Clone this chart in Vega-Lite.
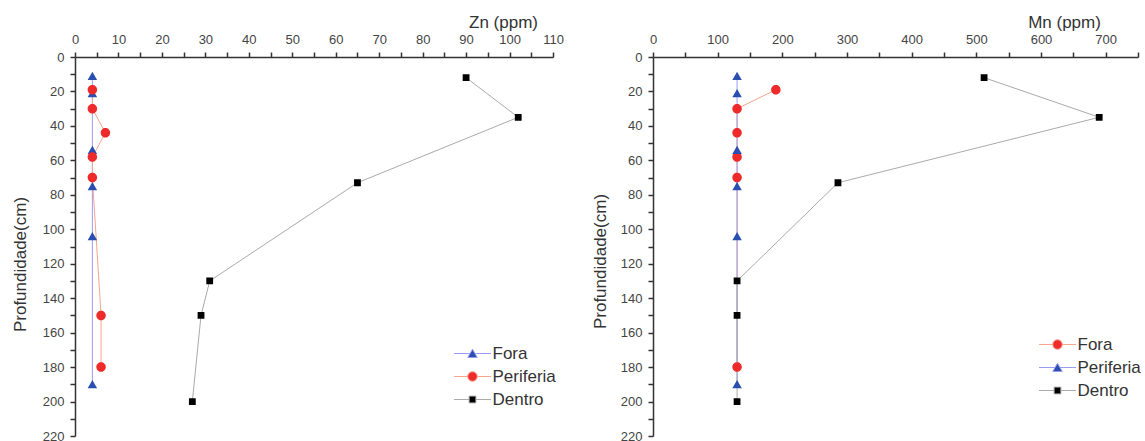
{
  "$schema": "https://vega.github.io/schema/vega-lite/v6.json",
  "padding": {"left": 11, "top": 13, "right": 0, "bottom": 0},
  "bounds": "flush",
  "spacing": 100,
  "config": {
    "view": {"stroke": null},
    "font": "Liberation Sans",
    "axis": {
      "grid": false,
      "domainColor": "#333333",
      "domainWidth": 1.5,
      "tickColor": "#333333",
      "tickWidth": 1.5,
      "labelColor": "#444444",
      "labelFontSize": 13,
      "labelFont": "Liberation Sans",
      "titleFont": "Liberation Sans",
      "titleFontSize": 17,
      "titleFontWeight": "normal",
      "titleColor": "#333333",
      "labelFlush": false,
      "labelOverlap": false
    },
    "legend": {
      "labelFont": "Liberation Sans",
      "labelFontSize": 17,
      "labelColor": "#333333",
      "symbolStrokeWidth": 1,
      "symbolSize": 100,
      "padding": 0
    }
  },
  "datasets": {
    "zn": [
      {"series": "Fora", "ppm": 4, "depth": 11},
      {"series": "Fora", "ppm": 4, "depth": 21},
      {"series": "Fora", "ppm": 4, "depth": 54},
      {"series": "Fora", "ppm": 4, "depth": 75},
      {"series": "Fora", "ppm": 4, "depth": 104},
      {"series": "Fora", "ppm": 4, "depth": 190},
      {"series": "Periferia", "ppm": 4, "depth": 19},
      {"series": "Periferia", "ppm": 4, "depth": 30},
      {"series": "Periferia", "ppm": 7, "depth": 44},
      {"series": "Periferia", "ppm": 4, "depth": 58},
      {"series": "Periferia", "ppm": 4, "depth": 70},
      {"series": "Periferia", "ppm": 6, "depth": 150},
      {"series": "Periferia", "ppm": 6, "depth": 180},
      {"series": "Dentro", "ppm": 90, "depth": 12},
      {"series": "Dentro", "ppm": 102, "depth": 35},
      {"series": "Dentro", "ppm": 65, "depth": 73},
      {"series": "Dentro", "ppm": 31, "depth": 130},
      {"series": "Dentro", "ppm": 29, "depth": 150},
      {"series": "Dentro", "ppm": 27, "depth": 200}
    ],
    "mn": [
      {"series": "Fora", "ppm": 190, "depth": 19},
      {"series": "Fora", "ppm": 130, "depth": 30},
      {"series": "Fora", "ppm": 130, "depth": 44},
      {"series": "Fora", "ppm": 130, "depth": 58},
      {"series": "Fora", "ppm": 130, "depth": 70},
      {"series": "Fora", "ppm": 130, "depth": 180},
      {"series": "Periferia", "ppm": 130, "depth": 11},
      {"series": "Periferia", "ppm": 130, "depth": 21},
      {"series": "Periferia", "ppm": 130, "depth": 54},
      {"series": "Periferia", "ppm": 130, "depth": 75},
      {"series": "Periferia", "ppm": 130, "depth": 104},
      {"series": "Periferia", "ppm": 130, "depth": 190},
      {"series": "Dentro", "ppm": 512, "depth": 12},
      {"series": "Dentro", "ppm": 690, "depth": 35},
      {"series": "Dentro", "ppm": 286, "depth": 73},
      {"series": "Dentro", "ppm": 130, "depth": 130},
      {"series": "Dentro", "ppm": 130, "depth": 150},
      {"series": "Dentro", "ppm": 130, "depth": 200}
    ]
  },
  "resolve": {"scale": {"x": "independent", "y": "independent", "fill": "independent", "stroke": "independent", "shape": "independent"}},
  "hconcat": [
    {
      "width": 478,
      "height": 379,
      "data": {"name": "zn"},
      "encoding": {
        "x": {"field": "ppm", "type": "quantitative", "scale": {"domain": [0, 110], "nice": false, "zero": false},
          "axis": {"orient": "top", "values": [0, 5, 10, 15, 20, 25, 30, 35, 40, 45, 50, 55, 60, 65, 70, 75, 80, 85, 90, 95, 100, 105, 110],
            "labelExpr": "datum.value % 10 === 0 ? datum.label : ''", "tickSize": 5, "labelPadding": 6,
            "title": "Zn (ppm)", "titleX": 428, "titleY": -30, "titleAlign": "center", "titleBaseline": "alphabetic", "titleAngle": 0}},
        "y": {"field": "depth", "type": "quantitative", "scale": {"domain": [0, 220], "reverse": true, "nice": false, "zero": false},
          "axis": {"orient": "left", "values": [0, 10, 20, 30, 40, 50, 60, 70, 80, 90, 100, 110, 120, 130, 140, 150, 160, 170, 180, 190, 200, 210, 220],
            "labelExpr": "datum.value % 20 === 0 ? datum.label : ''", "tickSize": 5, "labelPadding": 6,
            "title": "Profundidade(cm)", "titleX": -46, "titleY": 207, "titleAngle": -90, "titleAlign": "center", "titleBaseline": "bottom"}}
      },
      "layer": [
        {
          "mark": {"type": "line", "strokeWidth": 1},
          "encoding": {
            "stroke": {"field": "series", "type": "nominal",
              "scale": {"domain": ["Fora", "Periferia", "Dentro"], "range": ["#9a9cf2", "#f6a58e", "#aaaaaa"]},
              "legend": {"orient": "none", "legendX": 389, "legendY": 288, "title": null, "labelOffset": 11.5, "rowPadding": 5}},
            "order": {"field": "depth", "type": "quantitative"}
          }
        },
        {
          "mark": {"type": "point", "filled": true, "opacity": 1, "size": 100},
          "encoding": {
            "fill": {"field": "series", "type": "nominal",
              "scale": {"domain": ["Fora", "Periferia", "Dentro"], "range": ["#2a4fb0", "#ee2a2a", "#000000"]},
              "legend": {"orient": "none", "legendX": 389, "legendY": 288, "title": null, "labelOffset": 11.5, "rowPadding": 5}},
            "shape": {"field": "series", "type": "nominal",
              "scale": {"domain": ["Fora", "Periferia", "Dentro"], "range": [
                "M-3.7,0L-0.5,0M0.5,0L3.7,0M0,-0.85L0.95,0.8L-0.95,0.8Z",
                "M-3.7,0L-0.95,0M0.95,0L3.7,0M0.95,0C0.95,0.525,0.525,0.95,0,0.95C-0.525,0.95,-0.95,0.525,-0.95,0C-0.95,-0.525,-0.525,-0.95,0,-0.95C0.525,-0.95,0.95,-0.525,0.95,0Z",
                "M-3.7,0L-0.68,0M0.68,0L3.7,0M-0.68,-0.68L0.68,-0.68L0.68,0.68L-0.68,0.68Z"]},
              "legend": {"orient": "none", "legendX": 389, "legendY": 288, "title": null, "labelOffset": 11.5, "rowPadding": 5}}
          }
        }
      ]
    },
    {
      "width": 485,
      "height": 379,
      "data": {"name": "mn"},
      "encoding": {
        "x": {"field": "ppm", "type": "quantitative", "scale": {"domain": [0, 750], "nice": false, "zero": false},
          "axis": {"orient": "top", "values": [0, 50, 100, 150, 200, 250, 300, 350, 400, 450, 500, 550, 600, 650, 700, 750],
            "labelExpr": "datum.value % 100 === 0 ? datum.label : ''", "tickSize": 5, "labelPadding": 6,
            "title": "Mn (ppm)", "titleX": 411, "titleY": -30, "titleAlign": "center", "titleBaseline": "alphabetic", "titleAngle": 0}},
        "y": {"field": "depth", "type": "quantitative", "scale": {"domain": [0, 220], "reverse": true, "nice": false, "zero": false},
          "axis": {"orient": "left", "values": [0, 10, 20, 30, 40, 50, 60, 70, 80, 90, 100, 110, 120, 130, 140, 150, 160, 170, 180, 190, 200, 210, 220],
            "labelExpr": "datum.value % 20 === 0 ? datum.label : ''", "tickSize": 5, "labelPadding": 6,
            "title": "Profundidade(cm)", "titleX": -44, "titleY": 204, "titleAngle": -90, "titleAlign": "center", "titleBaseline": "bottom"}}
      },
      "layer": [
        {
          "mark": {"type": "line", "strokeWidth": 1},
          "encoding": {
            "stroke": {"field": "series", "type": "nominal",
              "scale": {"domain": ["Fora", "Periferia", "Dentro"], "range": ["#f6a58e", "#9a9cf2", "#aaaaaa"]},
              "legend": {"orient": "none", "legendX": 396, "legendY": 279, "title": null, "labelOffset": 11.5, "rowPadding": 5}},
            "order": {"field": "depth", "type": "quantitative"}
          }
        },
        {
          "mark": {"type": "point", "filled": true, "opacity": 1, "size": 100},
          "encoding": {
            "fill": {"field": "series", "type": "nominal",
              "scale": {"domain": ["Fora", "Periferia", "Dentro"], "range": ["#ee2a2a", "#2a4fb0", "#000000"]},
              "legend": {"orient": "none", "legendX": 396, "legendY": 279, "title": null, "labelOffset": 11.5, "rowPadding": 5}},
            "shape": {"field": "series", "type": "nominal",
              "scale": {"domain": ["Fora", "Periferia", "Dentro"], "range": [
                "M-3.7,0L-0.95,0M0.95,0L3.7,0M0.95,0C0.95,0.525,0.525,0.95,0,0.95C-0.525,0.95,-0.95,0.525,-0.95,0C-0.95,-0.525,-0.525,-0.95,0,-0.95C0.525,-0.95,0.95,-0.525,0.95,0Z",
                "M-3.7,0L-0.5,0M0.5,0L3.7,0M0,-0.85L0.95,0.8L-0.95,0.8Z",
                "M-3.7,0L-0.68,0M0.68,0L3.7,0M-0.68,-0.68L0.68,-0.68L0.68,0.68L-0.68,0.68Z"]},
              "legend": {"orient": "none", "legendX": 396, "legendY": 279, "title": null, "labelOffset": 11.5, "rowPadding": 5}}
          }
        }
      ]
    }
  ]
}
